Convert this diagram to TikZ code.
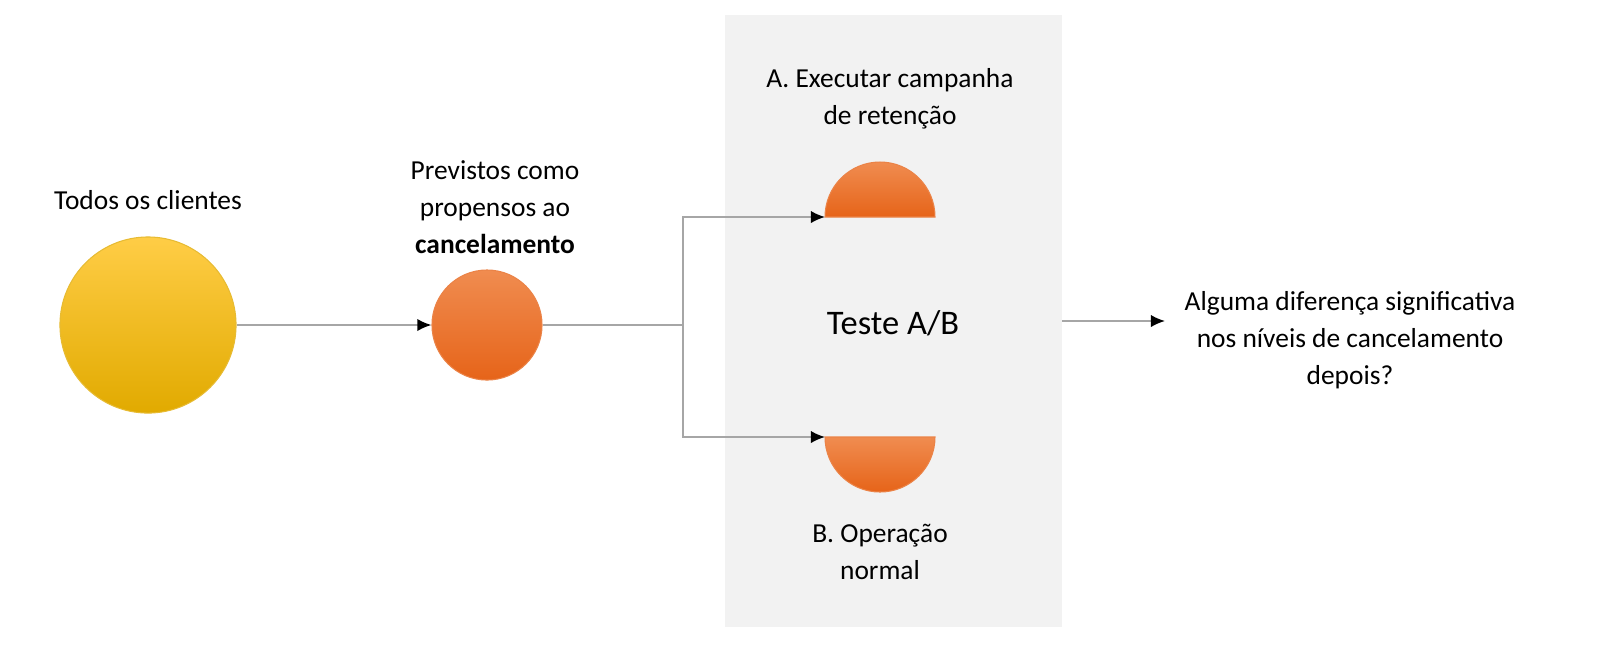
\documentclass[tikz,border=0pt]{standalone}
\usepackage{fontspec}
\setmainfont{Carlito}
\usetikzlibrary{arrows.meta,positioning}
\definecolor{goldtop}{RGB}{255,205,70}
\definecolor{goldbot}{RGB}{225,170,0}
\definecolor{orgtop}{RGB}{240,140,80}
\definecolor{orgbot}{RGB}{230,100,25}
\tikzset{
  lbl/.style={align=center,font=\fontsize{7.8}{10.5}\selectfont},
  conn/.style={draw=gray!70,line width=0.5pt,-{Latex[length=4pt,width=3.5pt,color=black]}},
  plain/.style={draw=gray!70,line width=0.5pt},
  orangeball/.style={top color=orgtop,bottom color=orgbot,draw=orgbot!80,line width=0.3pt}
}
\begin{document}
\begin{tikzpicture}[x=0.01cm,y=-0.01cm]
	\useasboundingbox (0,0) rectangle (1602,656);
	
	\fill[gray!10] (725,15) rectangle (1062,627);
	
	\node[circle,minimum size=1.76cm,inner sep=0,top color=goldtop,bottom color=goldbot,draw=goldbot!80,line width=0.3pt] (all) at (148,325) {};
	\node[circle,minimum size=1.1cm,inner sep=0,orangeball] (churn) at (487,325) {};
	
	\node[lbl] (tall) at (148,200) {Todos os clientes};
	\node[lbl] (tchurn) at (495,207) {Previstos como\\propensos ao\\\textbf{cancelamento}};
	
	% half circles
	\shade[orangeball] (825,217) arc[start angle=180,end angle=360,radius=55] -- cycle;
	\shade[orangeball] (825,437) arc[start angle=180,end angle=0,radius=55] -- cycle;
	\coordinate (ga) at (825,217);
	\coordinate (gb) at (825,437);
	
	\node[lbl] (ta) at (890,99) {A. Executar campanha\\de retenção};
	\node[lbl] (tb) at (880,552) {B. Operação\\normal};
	\node[font=\fontsize{9.8}{12}\selectfont] (ab) at (893,323) {Teste A/B};
	\node[lbl] (tq) at (1350,340) {Alguma diferença significativa\\nos níveis de cancelamento\\depois?};
	
	\coordinate (split) at (683,325);
	\coordinate (out) at (1062,321);
	\coordinate (in) at (1165,321);
	
	\draw[conn] (all) -- (churn);
	\draw[plain] (churn) -- (split);
	\draw[conn] (split) |- (ga);
	\draw[conn] (split) |- (gb);
	\draw[conn] (out) -- (in);
\end{tikzpicture}
\end{document}
